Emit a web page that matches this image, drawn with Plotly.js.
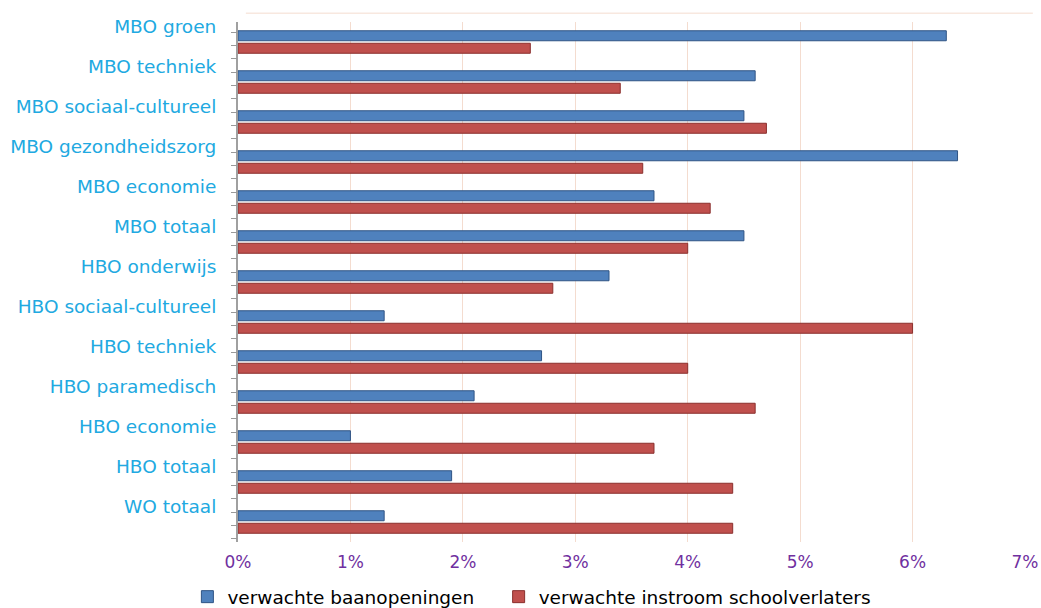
<!DOCTYPE html>
<html>
<head>
<meta charset="utf-8">
<script src="https://cdn.plot.ly/plotly-3.0.1.min.js"></script>
<style>html,body{margin:0;padding:0;background:#fff;}#chart{width:1041px;height:608px;}</style>
</head>
<body>
<div id="chart"></div>
<script>
const categories = ["MBO groen","MBO techniek","MBO sociaal-cultureel","MBO gezondheidszorg","MBO economie","MBO totaal","HBO onderwijs","HBO sociaal-cultureel","HBO techniek","HBO paramedisch","HBO economie","HBO totaal","WO totaal"];
const baanopeningen = [0.063,0.046,0.045,0.064,0.037,0.045,0.033,0.013,0.027,0.021,0.010,0.019,0.013];
const instroom = [0.026,0.034,0.047,0.036,0.042,0.040,0.028,0.060,0.040,0.046,0.037,0.044,0.044];
const seriesNames = ["verwachte baanopeningen","verwachte instroom schoolverlaters"];
const xTicks = [0,0.01,0.02,0.03,0.04,0.05,0.06,0.07];

const traces = [
  {type:'bar', orientation:'h', name:seriesNames[0], y:categories, x:baanopeningen, legend:'legend',
   marker:{color:'#4f81bd', line:{color:'#2f5485', width:1}}},
  {type:'bar', orientation:'h', name:seriesNames[1], y:categories, x:instroom, legend:'legend2',
   marker:{color:'#c0504d', line:{color:'#8a2f2d', width:1}}},
  {type:'scatter', x:[], y:[], yaxis:'y2', showlegend:false, hoverinfo:'skip'}
];

const legendBase = {orientation:'h', xref:'container', yref:'paper', xanchor:'left', y:-0.106, yanchor:'middle',
                    font:{size:18.5, color:'#000000'}, itemwidth:30, bgcolor:'rgba(0,0,0,0)'};

const layout = {
  width:1041, height:608,
  margin:{l:238, r:16, t:22, b:66, autoexpand:false},
  paper_bgcolor:'#ffffff', plot_bgcolor:'#ffffff',
  barmode:'group', bargap:0.375, bargroupgap:0.2,
  font:{family:'DejaVu Sans, Verdana, sans-serif'},
  xaxis:{range:[0,0.07], tickvals:xTicks, tickformat:'.0%', showgrid:true, gridcolor:'#f4dccf', gridwidth:1,
         zeroline:false, showline:false, ticks:'', ticklabelstandoff:8,
         tickfont:{size:17, color:'#7030a0'}},
  yaxis:{type:'category', autorange:'reversed', showgrid:false, zeroline:false, showline:true, linecolor:'#a0a0a0', linewidth:2,
         ticks:'', ticklabelstandoff:16, ticklabelshift:15,
         tickfont:{size:18.5, color:'#21a9e1'}},
  yaxis2:{overlaying:'y', side:'left', range:[12.5,-0.5], tick0:-0.25, dtick:1/3, ticks:'outside', ticklen:6,
          tickcolor:'#9a9a9a', showticklabels:false, showgrid:false, zeroline:false, showline:false},
  shapes:[{type:'line', xref:'paper', yref:'paper', x0:0.01, x1:1.01, y0:1.017, y1:1.017,
           line:{color:'#f4dccf', width:1}}],
  showlegend:true,
  legend:Object.assign({}, legendBase, {x:0.18}),
  legend2:Object.assign({}, legendBase, {x:0.479}),
  hovermode:false
};

Plotly.newPlot('chart', traces, layout, {displayModeBar:false, staticPlot:true});
</script>
</body>
</html>
